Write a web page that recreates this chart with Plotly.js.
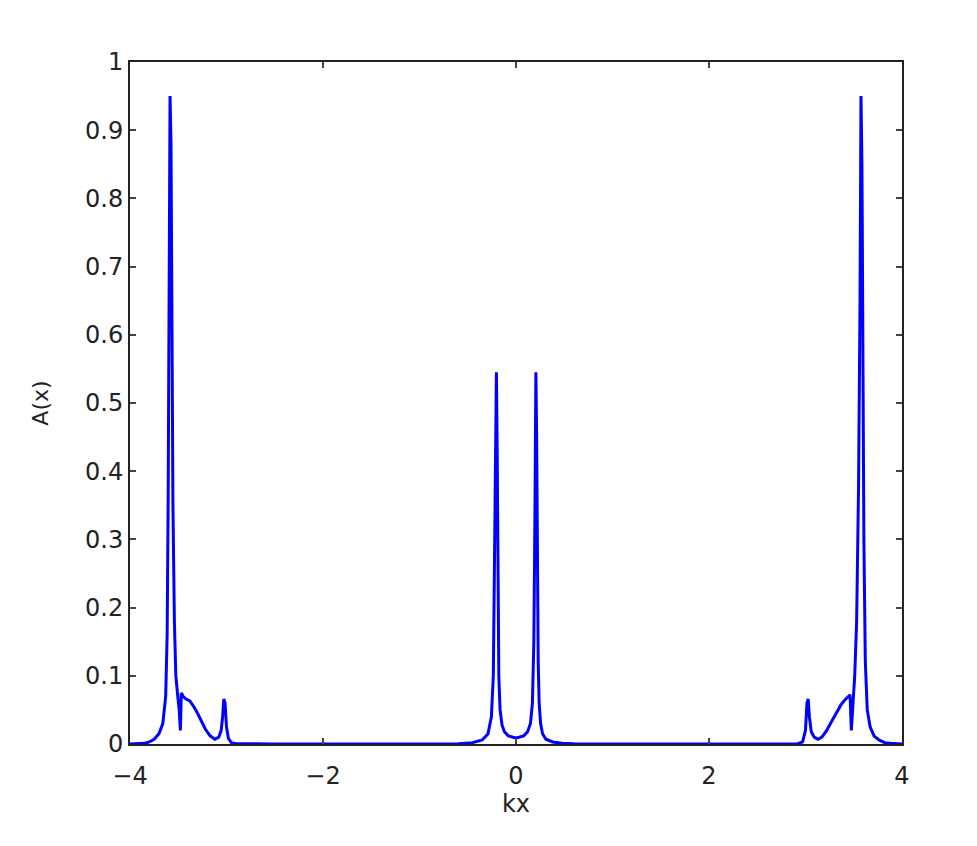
<!DOCTYPE html>
<html>
<head>
<meta charset="utf-8">
<script src="https://cdn.plot.ly/plotly-3.0.1.min.js"></script>
<style>html,body{margin:0;padding:0;background:#fff;}#chart{width:977px;height:846px;}</style>
</head>
<body>
<div id="chart"></div>
<script>
// kx values and spectral weight A(x)
const kx = [
  -4.0, -3.9, -3.85, -3.8, -3.75, -3.7, -3.66, -3.63, -3.615, -3.605, -3.595, -3.585,
  -3.575, -3.565, -3.555, -3.54, -3.525, -3.505, -3.49, -3.478, -3.468, -3.45, -3.42,
  -3.38, -3.34, -3.3, -3.26, -3.22, -3.17, -3.12, -3.08, -3.055, -3.04, -3.028, -3.015,
  -3.0, -2.98, -2.95, -2.9, -2.5, -1.5, -1.0, -0.6, -0.45, -0.35, -0.29, -0.255, -0.235,
  -0.222, -0.212, -0.203, -0.195, -0.187, -0.178, -0.165, -0.145, -0.12, -0.08, -0.03,
  0.0, 0.03, 0.08, 0.12, 0.15, 0.17, 0.185, 0.197, 0.206, 0.214, 0.222, 0.23, 0.24,
  0.255, 0.275, 0.31, 0.38, 0.48, 0.6, 1.0, 1.5, 2.5, 2.92, 2.97, 3.0, 3.015, 3.028,
  3.04, 3.06, 3.09, 3.13, 3.17, 3.22, 3.27, 3.32, 3.37, 3.41, 3.44, 3.462, 3.475,
  3.49, 3.51, 3.53, 3.55, 3.565, 3.575, 3.585, 3.595, 3.605, 3.62, 3.64, 3.67, 3.71,
  3.76, 3.82, 3.88, 3.95, 4.0
];
const Ax = [
  0.0, 0.0005, 0.001, 0.003, 0.007, 0.015, 0.03, 0.07, 0.16, 0.35, 0.65, 0.95,
  0.88, 0.6, 0.35, 0.18, 0.1, 0.07, 0.05, 0.02, 0.075, 0.07, 0.066,
  0.063, 0.055, 0.045, 0.033, 0.022, 0.012, 0.007, 0.01, 0.02, 0.04, 0.066, 0.06,
  0.025, 0.008, 0.002, 0.0005, 0.0, 0.0, 0.0, 0.0005, 0.002, 0.006, 0.015, 0.04, 0.1,
  0.25, 0.45, 0.545, 0.43, 0.22, 0.1, 0.05, 0.028, 0.018, 0.012, 0.01,
  0.009, 0.01, 0.012, 0.018, 0.03, 0.06, 0.15, 0.35, 0.545, 0.45, 0.25, 0.12, 0.06,
  0.03, 0.015, 0.007, 0.003, 0.001, 0.0005, 0.0, 0.0, 0.0, 0.0005, 0.003, 0.02, 0.06, 0.066,
  0.04, 0.018, 0.01, 0.007, 0.01, 0.02, 0.033, 0.045, 0.058, 0.065, 0.07, 0.072, 0.02,
  0.06, 0.1, 0.18, 0.38, 0.65, 0.95, 0.85, 0.55, 0.3, 0.12, 0.05, 0.025, 0.012,
  0.006, 0.002, 0.001, 0.0003, 0.0
];
const xTicks = [-4, -2, 0, 2, 4];
const yTicks = [0, 0.1, 0.2, 0.3, 0.4, 0.5, 0.6, 0.7, 0.8, 0.9, 1];
const yTickText = ['0', '0.1', '0.2', '0.3', '0.4', '0.5', '0.6', '0.7', '0.8', '0.9', '1'];

const trace = {
  x: kx, y: Ax, type: 'scatter', mode: 'lines',
  line: {color: '#0000ff', width: 3},
  cliponaxis: false,
  hoverinfo: 'skip'
};
const axisFont = {family: 'DejaVu Sans, sans-serif', size: 24, color: '#222'};
const layout = {
  width: 977, height: 846,
  margin: {l: 130, r: 75, t: 62, b: 102},
  paper_bgcolor: '#fff', plot_bgcolor: '#fff',
  showlegend: false,
  font: axisFont,
  xaxis: {
    range: [-4, 4], tickvals: xTicks, ticktext: xTicks.map(v => v < 0 ? '\u2212' + Math.abs(v) : String(v)),
    ticks: 'inside', ticklen: 6, tickwidth: 2, tickcolor: '#444',
    showline: true, linecolor: '#222', linewidth: 2, mirror: 'ticks',
    showgrid: false, zeroline: false, tickfont: axisFont,
    ticklabelstandoff: 9,
    title: {text: 'kx', font: axisFont, standoff: 6}
  },
  yaxis: {
    range: [0, 1], tickvals: yTicks, ticktext: yTickText,
    ticks: 'inside', ticklen: 6, tickwidth: 2, tickcolor: '#444',
    showline: true, linecolor: '#222', linewidth: 2, mirror: 'ticks',
    showgrid: false, zeroline: false, tickfont: axisFont,
    title: {text: 'A(x)', font: {family: 'DejaVu Sans, sans-serif', size: 22, color: '#222'}, standoff: 30}
  }
};
Plotly.newPlot('chart', [trace], layout, {displayModeBar: false, staticPlot: true});
</script>
</body>
</html>
